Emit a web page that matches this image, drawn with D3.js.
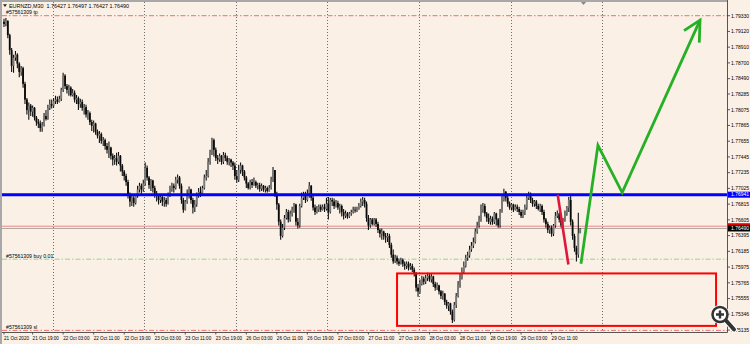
<!DOCTYPE html>
<html>
<head>
<meta charset="utf-8">
<script src="https://cdnjs.cloudflare.com/ajax/libs/d3/7.8.5/d3.min.js"></script>
<style>
  html, body { margin: 0; padding: 0; background: #faf0e6; }
  svg { display: block; }
  text { font-family: "Liberation Sans", Arial, sans-serif; fill: #000; }
</style>
</head>
<body>
<svg id="chart" width="750" height="344"></svg>
<script>
// EURNZD M30, 21 Oct 11:30 .. 29 Oct 18:00 (one entry per bar)
const symbol = 'EURNZD,M30';
const ticket = '#57561309';
const firstOpen = 1.7925;

const closes = [
  1.7922,1.7926,1.7907,1.7887,1.7866,1.7877,1.7881,1.7869,1.7858,1.7863,
  1.7842,1.7821,1.7807,1.7813,1.7805,1.7810,1.7797,1.7791,1.7789,1.7783,
  1.7787,1.7799,1.7795,1.7810,1.7815,1.7813,1.7819,1.7821,1.7818,1.7822,
  1.7834,1.7853,1.7839,1.7834,1.7837,1.7827,1.7830,1.7821,1.7823,1.7815,
  1.7818,1.7810,1.7811,1.7801,1.7803,1.7791,1.7786,1.7789,1.7778,1.7773,
  1.7775,1.7766,1.7767,1.7759,1.7754,1.7757,1.7746,1.7741,1.7743,1.7738,
  1.7746,1.7733,1.7725,1.7719,1.7711,1.7694,1.7685,1.7690,1.7683,1.7693,
  1.7701,1.7706,1.7701,1.7709,1.7730,1.7717,1.7707,1.7713,1.7703,1.7695,
  1.7693,1.7687,1.7691,1.7685,1.7687,1.7682,1.7694,1.7701,1.7706,1.7703,
  1.7714,1.7717,1.7706,1.7687,1.7674,1.7685,1.7693,1.7701,1.7687,1.7677,
  1.7681,1.7693,1.7698,1.7695,1.7703,1.7717,1.7719,1.7738,1.7751,1.7767,
  1.7754,1.7743,1.7741,1.7746,1.7738,1.7747,1.7743,1.7738,1.7741,1.7737,
  1.7733,1.7719,1.7714,1.7727,1.7733,1.7725,1.7717,1.7709,1.7703,1.7711,
  1.7707,1.7711,1.7706,1.7707,1.7702,1.7706,1.7701,1.7703,1.7699,1.7703,
  1.7714,1.7727,1.7695,1.7681,1.7658,1.7639,1.7650,1.7663,1.7671,1.7661,
  1.7669,1.7674,1.7681,1.7658,1.7653,1.7679,1.7690,1.7695,1.7687,1.7693,
  1.7706,1.7690,1.7677,1.7671,1.7675,1.7678,1.7674,1.7678,1.7675,1.7682,
  1.7671,1.7687,1.7685,1.7679,1.7683,1.7677,1.7679,1.7671,1.7666,1.7669,
  1.7665,1.7669,1.7671,1.7674,1.7673,1.7675,1.7679,1.7685,1.7687,1.7682,
  1.7663,1.7653,1.7661,1.7655,1.7661,1.7655,1.7647,1.7642,1.7645,1.7639,
  1.7637,1.7639,1.7627,1.7614,1.7605,1.7610,1.7605,1.7602,1.7607,1.7602,
  1.7599,1.7602,1.7597,1.7599,1.7594,1.7589,1.7570,1.7565,1.7575,1.7582,
  1.7578,1.7583,1.7586,1.7581,1.7585,1.7575,1.7570,1.7573,1.7565,1.7559,
  1.7562,1.7551,1.7546,1.7549,1.7538,1.7527,1.7547,1.7559,1.7574,1.7583,
  1.7591,1.7599,1.7610,1.7613,1.7621,1.7626,1.7631,1.7645,1.7653,1.7661,
  1.7674,1.7679,1.7669,1.7663,1.7658,1.7662,1.7658,1.7669,1.7661,1.7653,
  1.7671,1.7687,1.7698,1.7690,1.7682,1.7677,1.7681,1.7674,1.7678,1.7675,
  1.7671,1.7666,1.7671,1.7677,1.7690,1.7695,1.7687,1.7682,1.7685,1.7679,
  1.7675,1.7679,1.7671,1.7661,1.7655,1.7647,1.7650,1.7642,1.7653,1.7666,
  1.7669,1.7661,1.7653,1.7661,1.7669,1.7677,1.7687,1.7658,1.7639,1.7623,
  1.7614,1.76427,1.76490
];

const highs = [
  1.7929,1.7930,1.7927,1.7909,1.7890,1.7881,1.7886,1.7883,1.7871,1.7866,
  1.7865,1.7845,1.7823,1.7817,1.7815,1.7813,1.7811,1.7799,1.7795,1.7793,
  1.7791,1.7803,1.7807,1.7814,1.7821,1.7821,1.7823,1.7826,1.7825,1.7826,
  1.7837,1.7857,1.7855,1.7842,1.7841,1.7839,1.7835,1.7833,1.7827,1.7825,
  1.7822,1.7821,1.7815,1.7814,1.7807,1.7805,1.7794,1.7793,1.7790,1.7781,
  1.7779,1.7777,1.7771,1.7769,1.7763,1.7765,1.7758,1.7749,1.7747,1.7750,
  1.7751,1.7747,1.7735,1.7727,1.7722,1.7714,1.7697,1.7693,1.7694,1.7695,
  1.7706,1.7710,1.7709,1.7714,1.7737,1.7733,1.7719,1.7715,1.7714,1.7706,
  1.7699,1.7695,1.7694,1.7693,1.7691,1.7690,1.7697,1.7706,1.7710,1.7709,
  1.7718,1.7721,1.7719,1.7709,1.7690,1.7687,1.7701,1.7705,1.7702,1.7690,
  1.7687,1.7697,1.7703,1.7705,1.7706,1.7721,1.7727,1.7743,1.7754,1.7770,
  1.7769,1.7757,1.7747,1.7749,1.7747,1.7751,1.7750,1.7746,1.7743,1.7742,
  1.7739,1.7737,1.7727,1.7734,1.7737,1.7734,1.7727,1.7719,1.7711,1.7714,
  1.7715,1.7717,1.7713,1.7710,1.7710,1.7709,1.7707,1.7706,1.7705,1.7707,
  1.7718,1.7731,1.7725,1.7698,1.7683,1.7661,1.7655,1.7667,1.7675,1.7674,
  1.7673,1.7678,1.7683,1.7682,1.7663,1.7682,1.7697,1.7698,1.7698,1.7701,
  1.7711,1.7707,1.7693,1.7681,1.7679,1.7681,1.7681,1.7681,1.7682,1.7690,
  1.7691,1.7690,1.7690,1.7689,1.7687,1.7686,1.7682,1.7681,1.7675,1.7673,
  1.7671,1.7671,1.7674,1.7678,1.7678,1.7678,1.7683,1.7689,1.7691,1.7690,
  1.7685,1.7667,1.7663,1.7663,1.7663,1.7663,1.7658,1.7649,1.7649,1.7646,
  1.7643,1.7643,1.7642,1.7630,1.7621,1.7614,1.7613,1.7609,1.7610,1.7609,
  1.7605,1.7605,1.7605,1.7603,1.7602,1.7597,1.7591,1.7575,1.7581,1.7586,
  1.7585,1.7587,1.7590,1.7589,1.7589,1.7586,1.7578,1.7577,1.7574,1.7567,
  1.7566,1.7563,1.7554,1.7551,1.7550,1.7541,1.7551,1.7563,1.7579,1.7589,
  1.7597,1.7605,1.7614,1.7618,1.7626,1.7631,1.7637,1.7649,1.7658,1.7666,
  1.7681,1.7683,1.7682,1.7671,1.7669,1.7666,1.7665,1.7671,1.7670,1.7663,
  1.7675,1.7693,1.7702,1.7699,1.7693,1.7685,1.7683,1.7682,1.7681,1.7681,
  1.7678,1.7674,1.7674,1.7681,1.7694,1.7698,1.7697,1.7690,1.7687,1.7687,
  1.7682,1.7682,1.7681,1.7674,1.7663,1.7658,1.7653,1.7653,1.7655,1.7671,
  1.7673,1.7670,1.7663,1.7663,1.7673,1.7679,1.7691,1.7694,1.7661,1.7642,
  1.7626,1.7670,1.76497
];

const lows = [
  1.7918,1.7919,1.7903,1.7881,1.7858,1.7857,1.7873,1.7863,1.7851,1.7853,
  1.7837,1.7815,1.7801,1.7794,1.7799,1.7798,1.7793,1.7786,1.7783,1.7778,
  1.7778,1.7785,1.7793,1.7794,1.7807,1.7809,1.7810,1.7815,1.7815,1.7817,
  1.7819,1.7831,1.7835,1.7829,1.7826,1.7825,1.7825,1.7817,1.7815,1.7807,
  1.7810,1.7806,1.7801,1.7797,1.7794,1.7787,1.7779,1.7777,1.7774,1.7769,
  1.7763,1.7762,1.7759,1.7754,1.7749,1.7743,1.7741,1.7733,1.7734,1.7733,
  1.7735,1.7725,1.7719,1.7713,1.7706,1.7689,1.7678,1.7679,1.7678,1.7681,
  1.7690,1.7697,1.7695,1.7698,1.7706,1.7713,1.7702,1.7699,1.7697,1.7690,
  1.7685,1.7681,1.7683,1.7679,1.7678,1.7678,1.7681,1.7691,1.7698,1.7697,
  1.7701,1.7709,1.7702,1.7682,1.7670,1.7673,1.7682,1.7689,1.7682,1.7669,
  1.7671,1.7678,1.7690,1.7691,1.7693,1.7701,1.7713,1.7717,1.7734,1.7747,
  1.7745,1.7739,1.7735,1.7738,1.7734,1.7735,1.7739,1.7734,1.7733,1.7731,
  1.7727,1.7714,1.7710,1.7711,1.7722,1.7719,1.7713,1.7703,1.7701,1.7701,
  1.7703,1.7706,1.7703,1.7701,1.7698,1.7699,1.7698,1.7697,1.7697,1.7698,
  1.7701,1.7711,1.7691,1.7674,1.7653,1.7634,1.7637,1.7647,1.7661,1.7657,
  1.7658,1.7665,1.7670,1.7653,1.7649,1.7650,1.7677,1.7687,1.7683,1.7685,
  1.7690,1.7686,1.7673,1.7667,1.7669,1.7671,1.7671,1.7673,1.7671,1.7673,
  1.7661,1.7669,1.7679,1.7675,1.7677,1.7674,1.7669,1.7665,1.7661,1.7663,
  1.7662,1.7663,1.7666,1.7669,1.7670,1.7671,1.7674,1.7677,1.7679,1.7677,
  1.7658,1.7647,1.7650,1.7653,1.7653,1.7651,1.7643,1.7637,1.7634,1.7634,
  1.7630,1.7631,1.7623,1.7610,1.7602,1.7603,1.7601,1.7599,1.7601,1.7598,
  1.7594,1.7595,1.7593,1.7594,1.7591,1.7585,1.7565,1.7558,1.7562,1.7573,
  1.7574,1.7575,1.7579,1.7578,1.7577,1.7571,1.7566,1.7567,1.7561,1.7555,
  1.7554,1.7547,1.7542,1.7539,1.7534,1.7523,1.7525,1.7543,1.7557,1.7570,
  1.7581,1.7589,1.7597,1.7606,1.7610,1.7618,1.7623,1.7629,1.7642,1.7650,
  1.7658,1.7670,1.7665,1.7658,1.7655,1.7654,1.7654,1.7655,1.7653,1.7650,
  1.7650,1.7670,1.7685,1.7685,1.7678,1.7674,1.7673,1.7671,1.7673,1.7671,
  1.7667,1.7663,1.7663,1.7667,1.7674,1.7687,1.7683,1.7678,1.7678,1.7675,
  1.7673,1.7671,1.7667,1.7657,1.7650,1.7643,1.7642,1.7638,1.7639,1.7650,
  1.7663,1.7657,1.7650,1.7650,1.7658,1.7666,1.7671,1.7653,1.7634,1.7618,
  1.7605,1.7610,1.76427
];

// right price scale labels
const priceTicks = [1.79330,1.79120,1.78910,1.78700,1.78490,1.78285,1.78075,1.77865,
  1.77655,1.77445,1.77235,1.77025,1.76815,1.76605,1.76395,1.76185,1.75975,1.75765,
  1.75555,1.75346,1.75135];

// time scale labels and the bar they sit on
const timeLabels = ['21 Oct 2020','21 Oct 19:00','22 Oct 03:00','22 Oct 11:00','22 Oct 19:00',
  '23 Oct 03:00','23 Oct 11:00','23 Oct 19:00','26 Oct 03:00','26 Oct 11:00','26 Oct 19:00',
  '27 Oct 03:00','27 Oct 11:00','27 Oct 19:00','28 Oct 03:00','28 Oct 11:00','28 Oct 19:00',
  '29 Oct 03:00','29 Oct 11:00'];
const timeLabelBars = [0,15,31,47,63,79,95,111,127,143,159,175,191,207,223,239,255,271,287];
const dayStartBars = [25,73,121,169,217,265,313];   // midnight separators

// order levels and drawn objects
const tpLevel = 1.7933, slLevel = 1.7513, buyLevel = 1.7608;
const bidPrice = 1.7649, askPrice = 1.7652;
const blueLevel = 1.76941;
const redTrend = [[290.2, 1.7694], [295.8, 1.7601]];
const greenPath = [[302.4, 1.7602], [311.3, 1.7760], [324.0, 1.7697], [364.8, 1.7927]];
const greenHead = [[356.4, 1.7913], [364.8, 1.7927], [364.4, 1.7897]];
const zoneBars = [206, 373.2];
const zonePrices = [1.7589, 1.7519];

const svg = d3.select('#chart');
const W = 750, H = 344;
const plot = {left: 2, right: 727.5, top: 2, bottom: 332.5};

const x = d3.scaleLinear().domain([0, 302]).range([4, 4 + 302 * 1.908]);
const y = d3.scaleLinear().domain([1.75135, 1.79330]).range([330, 15.7]);

svg.append('rect').attr('width', W).attr('height', H).attr('fill', '#faf0e6');

svg.append('defs').append('clipPath').attr('id', 'clip')
  .append('rect')
  .attr('x', plot.left).attr('y', plot.top)
  .attr('width', plot.right - plot.left).attr('height', plot.bottom - plot.top);

const g = svg.append('g').attr('clip-path', 'url(#clip)');

// day separators
g.selectAll('line.day').data(dayStartBars).join('line')
  .attr('class', 'day')
  .attr('x1', d => Math.round(x(d)) + 1.5).attr('x2', d => Math.round(x(d)) + 1.5)
  .attr('y1', plot.top).attr('y2', plot.bottom)
  .attr('stroke', '#6e6e6e').attr('stroke-width', 1).attr('stroke-dasharray', '1,2');

// order lines
function hline(price, color, dash, width) {
  g.append('line')
    .attr('x1', plot.left).attr('x2', plot.right)
    .attr('y1', y(price)).attr('y2', y(price))
    .attr('stroke', color).attr('stroke-width', width)
    .attr('stroke-dasharray', dash);
}
hline(tpLevel, '#f26d6d', '5,2,1.5,2', 1);
hline(slLevel, '#f26d6d', '5,2,1.5,2', 1);
hline(buyLevel, '#8fd88f', '5,2,1.5,2', 1);
hline(askPrice, '#e88a8a', null, 1);
hline(bidPrice, '#b0a8a0', null, 1);

// candles
const bars = closes.map((c, i) => ({
  i, open: i ? closes[i - 1] : firstOpen, high: highs[i], low: lows[i], close: c
}));

g.selectAll('line.wick').data(bars).join('line')
  .attr('class', 'wick')
  .attr('x1', d => x(d.i)).attr('x2', d => x(d.i))
  .attr('y1', d => y(Math.max(d.high, d.open, d.close)))
  .attr('y2', d => y(Math.min(d.low, d.open, d.close)))
  .attr('stroke', '#111').attr('stroke-width', 1.1);

g.selectAll('rect.body').data(bars).join('rect')
  .attr('class', 'body')
  .attr('x', d => x(d.i) - 0.9).attr('width', 1.8)
  .attr('y', d => y(Math.max(d.open, d.close)))
  .attr('height', d => Math.max(0.8, Math.abs(y(d.open) - y(d.close))))
  .attr('fill', d => d.close >= d.open ? '#7a7a7a' : '#0a0a0a');

// zone rectangle
g.append('rect')
  .attr('x', x(zoneBars[0])).attr('y', y(zonePrices[0]))
  .attr('width', x(zoneBars[1]) - x(zoneBars[0]))
  .attr('height', y(zonePrices[1]) - y(zonePrices[0]))
  .attr('fill', 'none').attr('stroke', '#ff0000').attr('stroke-width', 2);

// horizontal level
g.append('line')
  .attr('x1', plot.left).attr('x2', plot.right)
  .attr('y1', y(blueLevel)).attr('y2', y(blueLevel))
  .attr('stroke', '#0000ff').attr('stroke-width', 3);

const line = d3.line().x(d => x(d[0])).y(d => y(d[1]));

g.append('path').attr('d', line(redTrend))
  .attr('fill', 'none').attr('stroke', '#e0163a').attr('stroke-width', 2.6);

g.append('path').attr('d', line(greenPath))
  .attr('fill', 'none').attr('stroke', '#25b025').attr('stroke-width', 2.8)
  .attr('stroke-linejoin', 'miter');
g.append('path').attr('d', line(greenHead))
  .attr('fill', 'none').attr('stroke', '#25b025').attr('stroke-width', 2.8)
  .attr('stroke-linejoin', 'miter');

// order labels
function orderLabel(price, txt) {
  svg.append('text').attr('x', 6).attr('y', y(price) - 1.5)
    .attr('font-size', 5.2).text(txt);
}
orderLabel(tpLevel, ticket + ' tp');
orderLabel(buyLevel, ticket + ' buy 0.01');
orderLabel(slLevel, ticket + ' sl');

// header
const last = bars[bars.length - 1];
svg.append('path').attr('d', 'M3,4.3 L7,4.3 L5,7 Z').attr('fill', '#222');
svg.append('text').attr('x', 9).attr('y', 7.6).attr('font-size', 5.4)
  .attr('xml:space', 'preserve')
  .text(symbol + '  ' + [last.open, last.high, last.low, last.close].map(v => v.toFixed(5)).join(' '));

// chart-shift marker
svg.append('path').attr('d', 'M580,1 L587,1 L583.5,5 Z').attr('fill', '#8a8a8a');

// frame
svg.append('line').attr('x1', 0).attr('x2', plot.right).attr('y1', 1).attr('y2', 1)
  .attr('stroke', '#a8a8a8').attr('stroke-width', 2);
svg.append('line').attr('x1', 1).attr('x2', 1).attr('y1', 0).attr('y2', H)
  .attr('stroke', '#a8a8a8').attr('stroke-width', 2);
svg.append('line').attr('x1', plot.right).attr('x2', plot.right).attr('y1', 0).attr('y2', plot.bottom)
  .attr('stroke', '#555').attr('stroke-width', 1);
svg.append('line').attr('x1', 2).attr('x2', plot.right).attr('y1', plot.bottom).attr('y2', plot.bottom)
  .attr('stroke', '#555').attr('stroke-width', 1);

// price axis
const pa = svg.append('g');
pa.selectAll('line').data(priceTicks).join('line')
  .attr('x1', plot.right).attr('x2', plot.right + 2.5)
  .attr('y1', d => y(d)).attr('y2', d => y(d))
  .attr('stroke', '#333').attr('stroke-width', 0.8);
pa.selectAll('text').data(priceTicks).join('text')
  .attr('x', 731).attr('y', d => y(d) + 1.8)
  .attr('font-size', 5).text(d => d.toFixed(5));

function priceTag(price, bg, fg, withText) {
  const yy = y(price);
  svg.append('rect').attr('x', 728).attr('y', yy - 3).attr('width', 22).attr('height', 6)
    .attr('fill', bg);
  if (withText) {
    svg.append('text').attr('x', 731).attr('y', yy + 1.8).attr('font-size', 5)
      .style('fill', fg).text(price.toFixed(5));
  }
}
priceTag(blueLevel, '#0000ff', '#fff', true);
priceTag(askPrice, '#e00000', '#fff', false);   // ask tag sits under the bid tag
priceTag(bidPrice, '#000', '#fff', true);

// time axis
svg.selectAll('text.time').data(timeLabels).join('text')
  .attr('class', 'time')
  .attr('x', (d, i) => x(timeLabelBars[i]))
  .attr('y', 339.5)
  .attr('font-size', 4.6)
  .text(d => d);
svg.selectAll('line.ttick').data(timeLabelBars).join('line')
  .attr('class', 'ttick')
  .attr('x1', d => x(d)).attr('x2', d => x(d))
  .attr('y1', plot.bottom).attr('y2', plot.bottom + 2)
  .attr('stroke', '#333').attr('stroke-width', 0.8);

// magnifier badge
const mag = svg.append('g').attr('transform', 'translate(720,314.5)');
mag.append('line').attr('x1', 6).attr('y1', 6).attr('x2', 14).attr('y2', 15)
  .attr('stroke', '#fff').attr('stroke-width', 6).attr('stroke-linecap', 'round');
mag.append('circle').attr('r', 8.5).attr('fill', '#fff').attr('stroke', '#fff').attr('stroke-width', 2);
mag.append('line').attr('x1', 6).attr('y1', 6).attr('x2', 14).attr('y2', 15)
  .attr('stroke', '#333').attr('stroke-width', 4).attr('stroke-linecap', 'round');
mag.append('circle').attr('r', 7.5).attr('fill', 'none').attr('stroke', '#333').attr('stroke-width', 2.6);
mag.append('path').attr('d', 'M-4,0 H4 M0,-4 V4').attr('stroke', '#333').attr('stroke-width', 2.4);
</script>
</body>
</html>
